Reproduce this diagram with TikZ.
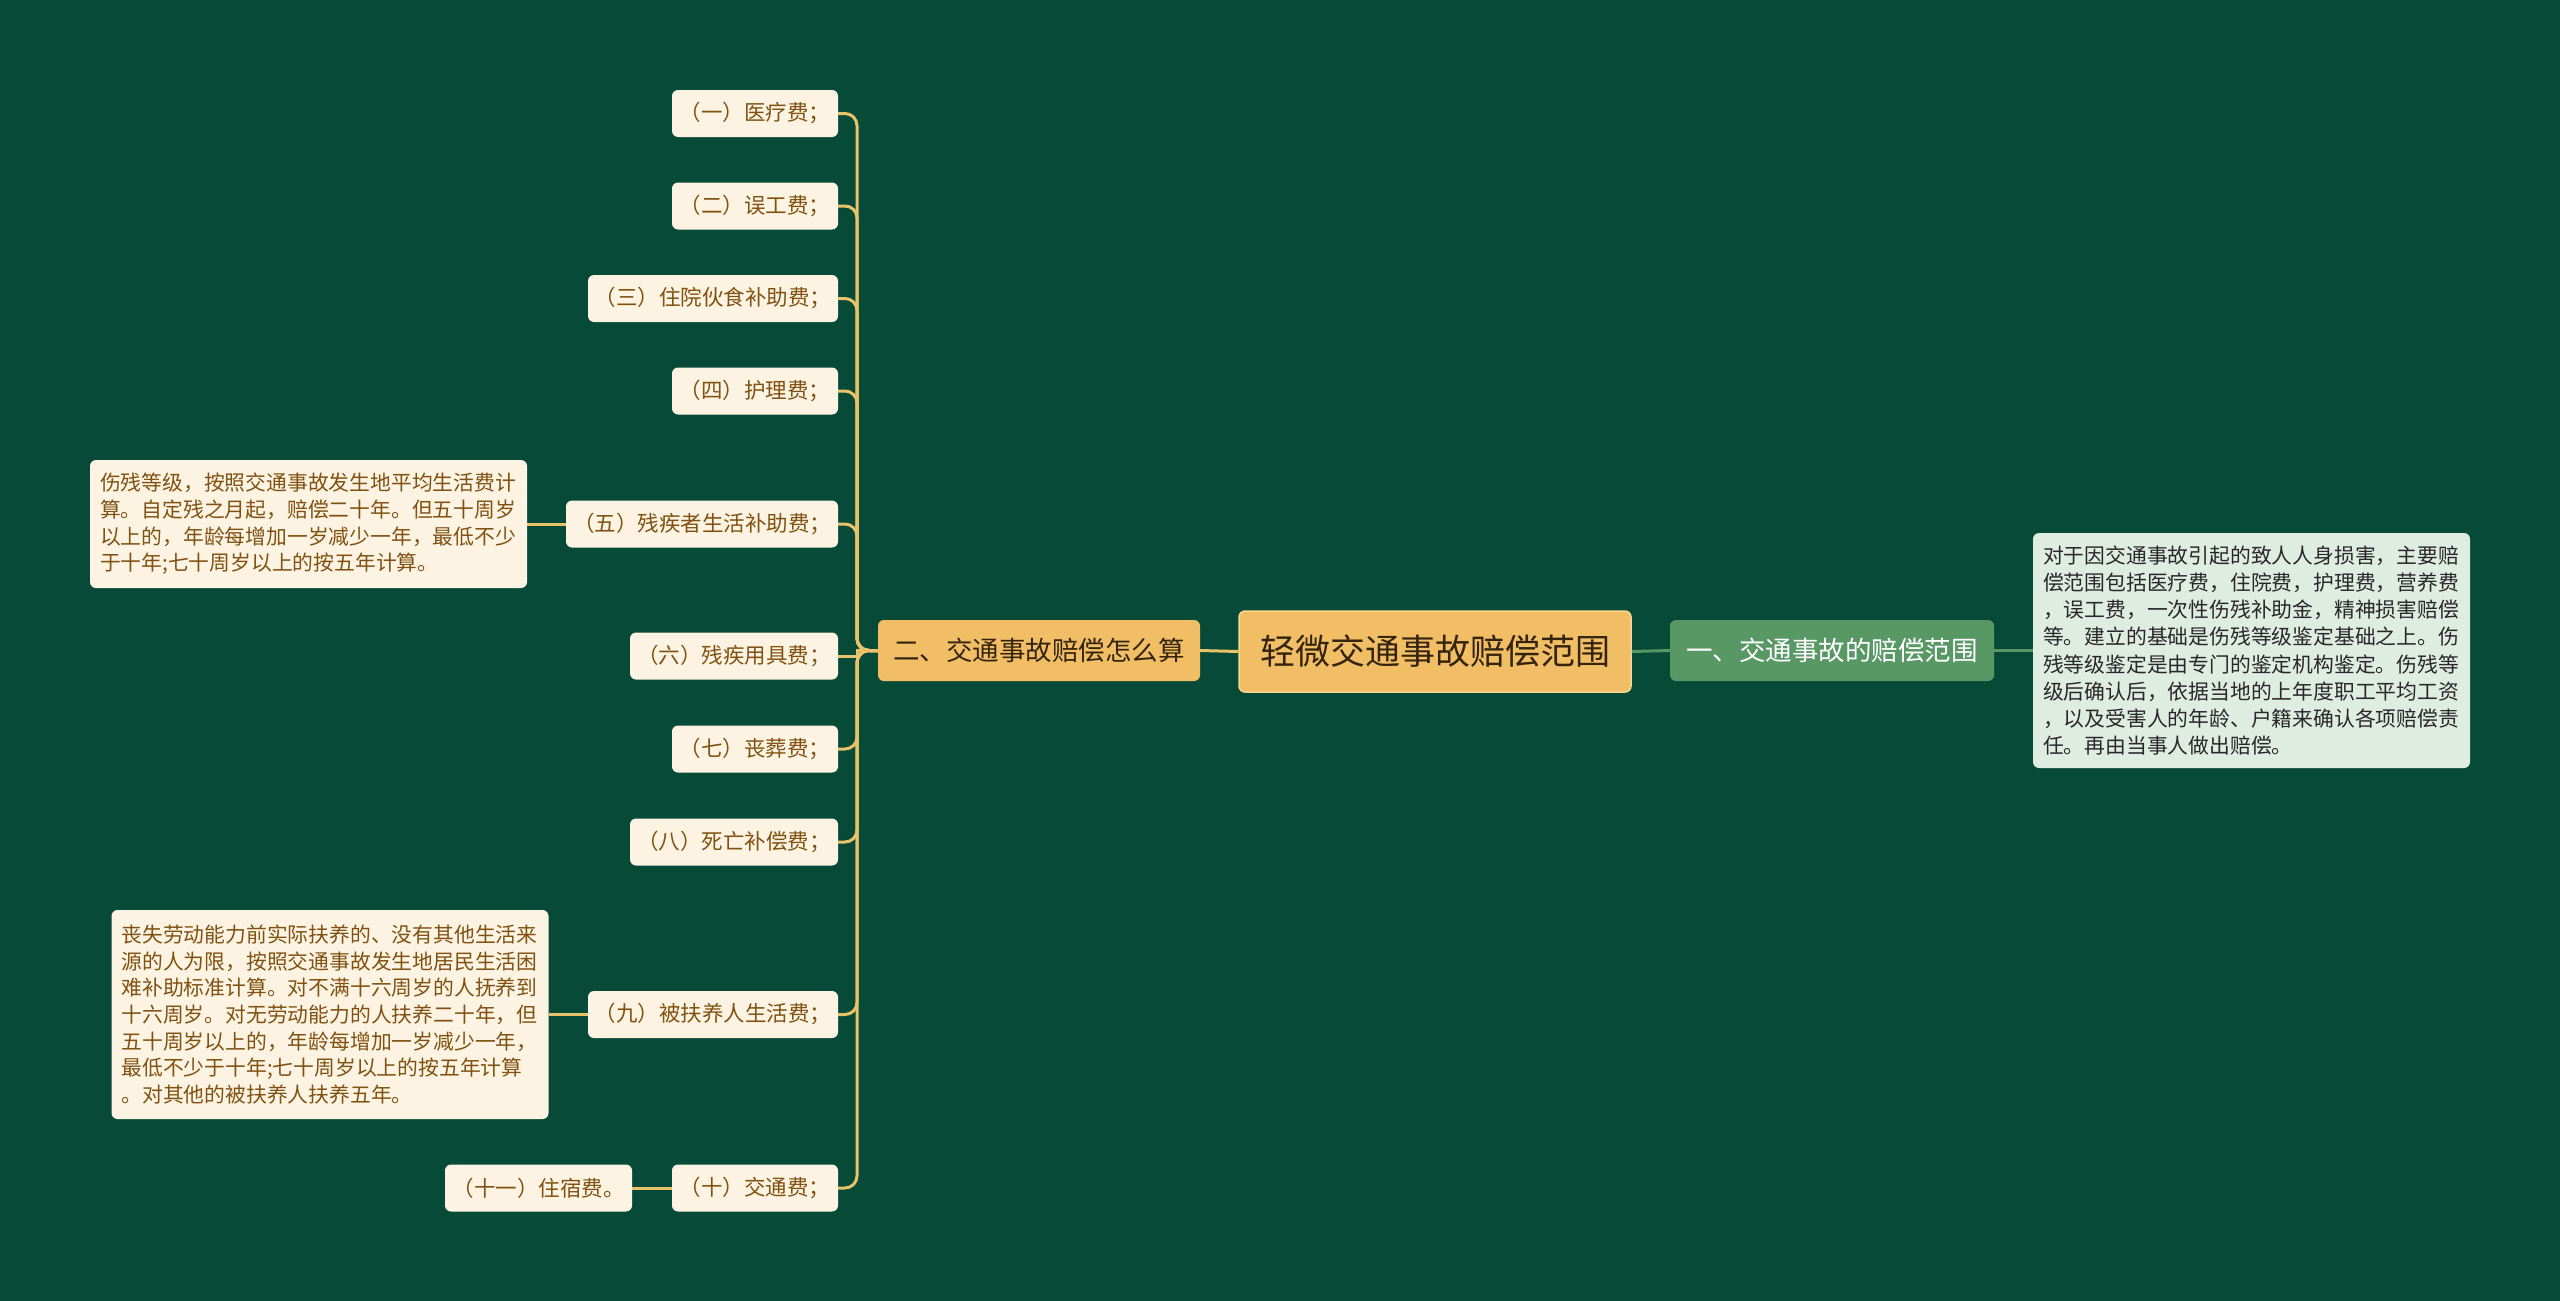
\documentclass[tikz,border=0pt]{standalone}
\usepackage{fontspec}
\setmainfont{Noto Sans CJK SC}
\definecolor{bg}{RGB}{8,74,56}
\definecolor{leaf}{RGB}{253,243,226}
\definecolor{leaftext}{RGB}{128,82,18}
\definecolor{gold}{RGB}{241,190,102}
\definecolor{goldedge}{RGB}{250,214,140}
\definecolor{goldline}{RGB}{232,195,106}
\definecolor{darktext}{RGB}{52,36,14}
\definecolor{green}{RGB}{88,152,100}
\definecolor{greenline}{RGB}{88,152,100}
\definecolor{rboxfill}{RGB}{222,236,226}
\definecolor{rboxtext}{RGB}{40,40,40}
\begin{document}
\begin{tikzpicture}[x=1pt,y=-1pt,
  leafbox/.style={fill=leaf, rounded corners=6pt, text=leaftext, inner sep=0pt,
    minimum height=47pt, font=\fontsize{21.5}{26}\selectfont, anchor=center},
  detailbox/.style={fill=leaf, rounded corners=6pt, text=leaftext, inner xsep=10pt, inner ysep=0pt,
    text width=417pt, align=left, font=\fontsize{20.8}{26.7}\selectfont, anchor=center},
  goldbox/.style={fill=gold, rounded corners=6pt, text=darktext, inner sep=0pt, anchor=center},
  gline/.style={draw=goldline, line width=3pt, rounded corners=12pt},
  grline/.style={draw=greenline, line width=3pt}]
\fill[bg] (0,0) rectangle (2560,1301);
\useasboundingbox (0,0) rectangle (2560,1301);
\coordinate (spine) at (857,0);
% central
\node[goldbox, draw=goldedge, line width=1.5pt, minimum width=392pt, minimum height=81pt, font=\fontsize{35}{40}\selectfont] (c) at (1435,651.5) {轻微交通事故赔偿范围};
\node[goldbox, minimum width=322pt, minimum height=61pt, font=\fontsize{26.5}{30}\selectfont] (b) at (1039,650.5) {二、交通事故赔偿怎么算};
\node[fill=green, rounded corners=6pt, text=white, inner sep=0pt, minimum width=324pt, minimum height=61pt, font=\fontsize{26.5}{30}\selectfont] (g) at (1832,650.5) {一、交通事故的赔偿范围};
\node[fill=rboxfill, rounded corners=6pt, text=rboxtext, inner xsep=10pt, inner ysep=0pt, text width=417pt, align=left, minimum height=235pt, font=\fontsize{20.8}{27.2}\selectfont] (r) at (2251.5,650.5) {对于因交通事故引起的致人人身损害，主要赔\\偿范围包括医疗费，住院费，护理费，营养费\\，误工费，一次性伤残补助金，精神损害赔偿\\等。建立的基础是伤残等级鉴定基础之上。伤\\残等级鉴定是由专门的鉴定机构鉴定。伤残等\\级后确认后，依据当地的上年度职工平均工资\\，以及受害人的年龄、户籍来确认各项赔偿责\\任。再由当事人做出赔偿。};
% leaves
\node[leafbox, minimum width=166pt] (l1) at (755,113.5) {（一）医疗费；};
\node[leafbox, minimum width=166pt] (l2) at (755,206) {（二）误工费；};
\node[leafbox, minimum width=250pt] (l3) at (713,298.5) {（三）住院伙食补助费；};
\node[leafbox, minimum width=166pt] (l4) at (755,391) {（四）护理费；};
\node[leafbox, minimum width=272pt] (l5) at (702,524) {（五）残疾者生活补助费；};
\node[leafbox, minimum width=208pt] (l6) at (734,656) {（六）残疾用具费；};
\node[leafbox, minimum width=166pt] (l7) at (755,749) {（七）丧葬费；};
\node[leafbox, minimum width=208pt] (l8) at (734,842) {（八）死亡补偿费；};
\node[leafbox, minimum width=250pt] (l9) at (713,1014.5) {（九）被扶养人生活费；};
\node[leafbox, minimum width=166pt] (l10) at (755,1188) {（十）交通费；};
\node[leafbox, minimum width=187pt] (l11) at (538.5,1188) {（十一）住宿费。};
% details
\node[detailbox, minimum height=128pt] (d5) at (308.5,524) {伤残等级，按照交通事故发生地平均生活费计\\算。自定残之月起，赔偿二十年。但五十周岁\\以上的，年龄每增加一岁减少一年，最低不少\\于十年;七十周岁以上的按五年计算。};
\node[detailbox, minimum height=209pt] (d9) at (330,1014.5) {丧失劳动能力前实际扶养的、没有其他生活来\\源的人为限，按照交通事故发生地居民生活困\\难补助标准计算。对不满十六周岁的人抚养到\\十六周岁。对无劳动能力的人扶养二十年，但\\五十周岁以上的，年龄每增加一岁减少一年，\\最低不少于十年;七十周岁以上的按五年计算\\。对其他的被扶养人扶养五年。};
% connectors
\draw[gline] (c.west) -- (b.east);
\foreach \n in {l1,l2,l3,l4,l5,l7,l8,l9,l10}{
  \draw[gline] (b.west) -- (b.west -| spine) |- (\n.east);
}
\draw[gline, rounded corners=0pt] (b.west) -- (b.west -| spine) -- (spine |- l6.east) -- (l6.east);
\draw[gline] (l5.west) -- (d5.east);
\draw[gline] (l9.west) -- (d9.east);
\draw[gline] (l10.west) -- (l11.east);
\draw[grline] (c.east) -- (g.west);
\draw[grline] (g.east) -- (r.west);
\end{tikzpicture}
\end{document}
